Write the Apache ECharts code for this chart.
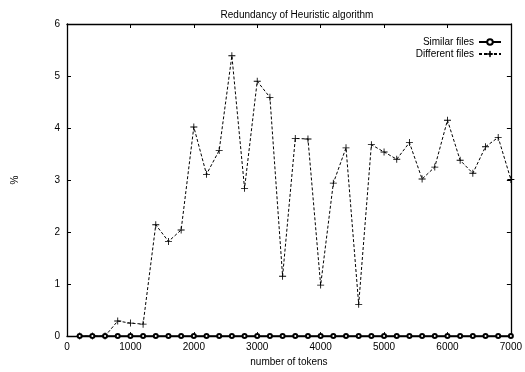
<!DOCTYPE html>
<html>
<head>
<meta charset="utf-8">
<script src="https://cdn.jsdelivr.net/npm/echarts@6/dist/echarts.min.js"></script>
<style>html,body{margin:0;padding:0;background:#fff}#c{width:525px;height:372px}</style>
</head>
<body>
<div id="c"></div>
<script>
const tokens = [200,400,600,800,1000,1200,1400,1600,1800,2000,2200,2400,2600,2800,3000,3200,3400,3600,3800,4000,4200,4400,4600,4800,5000,5200,5400,5600,5800,6000,6200,6400,6600,6800,7000];
const similarFiles = [0,0,0,0,0,0,0,0,0,0,0,0,0,0,0,0,0,0,0,0,0,0,0,0,0,0,0,0,0,0,0,0,0,0,0];
const differentFiles = [0,0,0,0.29,0.25,0.23,2.14,1.82,2.04,4.02,3.11,3.57,5.39,2.84,4.90,4.59,1.15,3.80,3.79,0.98,2.94,3.62,0.61,3.68,3.54,3.40,3.72,3.02,3.25,4.15,3.38,3.13,3.64,3.82,3.01];
const seriesNames = ['Similar files','Different files'];
const titleText = 'Redundancy of Heuristic algorithm';
const xName = 'number of tokens';
const yName = '%';

const FONT = 'Liberation Sans, Arial, sans-serif';
const chart = echarts.init(document.getElementById('c'), null, {renderer:'canvas'});
const pair = (xs, ys) => xs.map((x,i)=>[x, ys[i]]);
const plusSym = 'path://M4.4,0H5.6V4.4H10V5.6H5.6V10H4.4V5.6H0V4.4H4.4Z';
const axisCommon = {
  axisLine:{show:true, onZero:false, lineStyle:{color:'#000', width:1.3}},
  splitLine:{show:false}
};
chart.setOption({
  animation:false,
  backgroundColor:'#fff',
  title:{text:titleText, left:292, textAlign:'center', top:5,
    textStyle:{fontFamily:FONT, fontSize:10, fontWeight:'normal', color:'#000'}},
  legend:{
    orient:'vertical', right:18, top:32, align:'right', itemGap:2,
    itemWidth:22, itemHeight:7,
    itemStyle:{borderColor:'#000', borderWidth:0.8},
    textStyle:{fontFamily:FONT, fontSize:10, color:'#000'},
    data:seriesNames
  },
  grid:{left:67, right:8, top:24, bottom:26, show:false},
  xAxis:[{
    type:'value', min:0, max:7000, interval:1000, position:'bottom',
    name:xName, nameLocation:'middle', nameGap:18,
    nameTextStyle:{fontFamily:FONT, fontSize:10, color:'#000'},
    axisTick:{show:true, inside:true, length:4, lineStyle:{color:'#000'}},
    axisLabel:{fontFamily:FONT, fontSize:10, color:'#000', margin:6, formatter:v=>String(v)},
    ...axisCommon
  },{
    type:'value', min:0, max:7000, interval:1000, position:'top',
    axisTick:{show:true, inside:true, length:4, lineStyle:{color:'#000'}},
    axisLabel:{show:false},
    ...axisCommon
  }],
  yAxis:[{
    type:'value', min:0, max:6, interval:1, position:'left',
    name:yName, nameLocation:'middle', nameGap:47, nameRotate:90,
    nameTextStyle:{fontFamily:FONT, fontSize:10, color:'#000'},
    axisTick:{show:true, inside:true, length:4, lineStyle:{color:'#000'}},
    axisLabel:{fontFamily:FONT, fontSize:10, color:'#000', margin:7},
    ...axisCommon
  },{
    type:'value', min:0, max:6, interval:1, position:'right',
    axisTick:{show:true, inside:true, length:4, lineStyle:{color:'#000'}},
    axisLabel:{show:false},
    ...axisCommon
  }],
  series:[{
    name:seriesNames[0], type:'line', data:pair(tokens, similarFiles),
    symbol:'emptyCircle', symbolSize:4, showAllSymbol:true,
    lineStyle:{color:'#000', width:1.6},
    itemStyle:{color:'#000', borderColor:'#000', borderWidth:1},
    z:3
  },{
    name:seriesNames[1], type:'line', data:pair(tokens, differentFiles),
    symbol:plusSym, symbolSize:7, showAllSymbol:true,
    lineStyle:{color:'#000', width:1, type:[3,2]},
    itemStyle:{color:'#000', borderWidth:0},
    z:2
  }]
});
</script>
</body>
</html>
